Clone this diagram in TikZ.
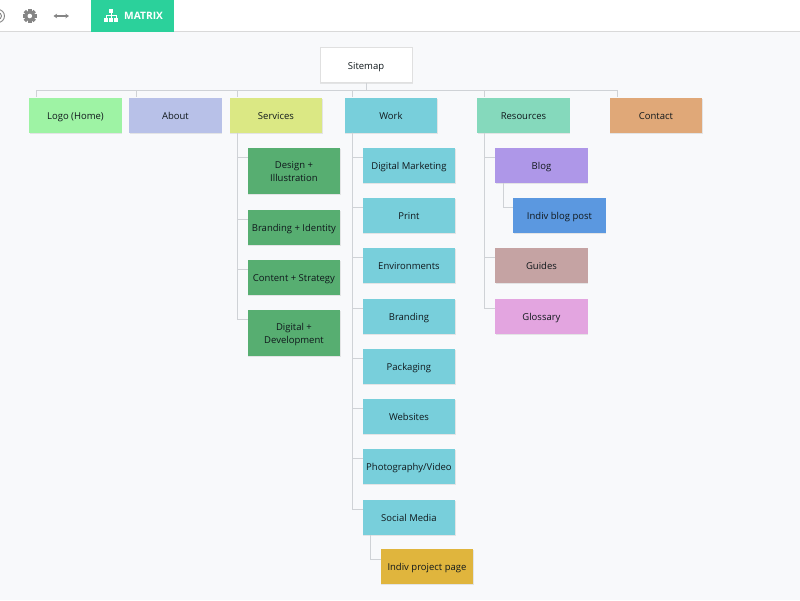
\documentclass[tikz,border=0pt]{standalone}
\usepackage{fontspec}
\setmainfont{Open Sans}
\usetikzlibrary{shadows,arrows.meta}
\definecolor{bgc}{HTML}{F8F9FB}
\definecolor{linec}{HTML}{CFD2D6}
\definecolor{txt}{HTML}{10181C}
\definecolor{matrixc}{HTML}{2BD19B}
\definecolor{iconc}{HTML}{858585}
\definecolor{cLogo}{HTML}{9EF3A4}
\definecolor{cAbout}{HTML}{B8C1E8}
\definecolor{cServ}{HTML}{DBE884}
\definecolor{cWork}{HTML}{78CFDB}
\definecolor{cGreen}{HTML}{57AE71}
\definecolor{cRes}{HTML}{85D9BC}
\definecolor{cCont}{HTML}{E0A878}
\definecolor{cBlog}{HTML}{AE97E8}
\definecolor{cPost}{HTML}{5B98E0}
\definecolor{cGuide}{HTML}{C5A3A3}
\definecolor{cGloss}{HTML}{E3A5E0}
\definecolor{cProj}{HTML}{E0B53D}
\tikzset{
  card/.style={anchor=north west,minimum width=92.5pt,minimum height=35pt,inner sep=0pt,
    xshift=-0.5pt,yshift=0.2pt,
    align=center,text=txt,font=\fontsize{9.5pt}{13pt}\selectfont,
    text height=8.4pt,text depth=0pt,
    drop shadow={shadow xshift=0.3pt,shadow yshift=-1.1pt,opacity=.14,fill=black!60}},
  tallcard/.style={card,minimum height=46pt,text height=21.2pt,text depth=0pt},
  conn/.style={draw=linec,line width=0.8pt},
}
\begin{document}
\begin{tikzpicture}[x=1pt,y=-1pt]
\useasboundingbox (0,0) rectangle (800,600);
\fill[bgc] (0,0) rectangle (800,600);
% header
\fill[white] (0,0) rectangle (800,31);
\draw[draw=black!15,line width=0.8pt] (0,31.6) -- (800,31.6);
\fill[matrixc] (91.2,0) rectangle (174.2,32);
% header icons
\draw[iconc,line width=0.9pt] (-2,16) circle (6.5pt);
\draw[iconc,line width=0.9pt] (-2,16) circle (3.5pt);
\fill[iconc] (29.8,16) circle (5.2pt);
\foreach \a in {0,45,...,315}
  \fill[iconc,rotate around={\a:(29.8,16)}] (28.1,9) rectangle (31.5,12);
\fill[white] (29.8,16) circle (2.3pt);
\draw[iconc,line width=1.3pt,{Stealth[length=3.5pt,width=4.5pt]}-{Stealth[length=3.5pt,width=4.5pt]}] (53.5,16) -- (69,16);
% matrix icon
\fill[white] (108.8,8.5) rectangle (113.3,13);
\draw[white,line width=0.9pt] (111,13) -- (111,15.5) (106,18) -- (106,15.5) -- (116.3,15.5) -- (116.3,18) (111,15.5) -- (111,18);
\fill[white] (104,18) rectangle (108.3,22);
\fill[white] (108.9,18) rectangle (113.2,22);
\fill[white] (114,18) rectangle (118.3,22);
\node[anchor=west,text=white,inner sep=0pt,font=\fontsize{10.2pt}{12pt}\selectfont\bfseries] (matrix) at (124,15.8) {MATRIX};
% nodes
\node[card,fill=white,draw=black!12,line width=0.5pt] (sitemap) at (320,47.5) {Sitemap};
\node[card,fill=cLogo] (logo) at (29.5,97.5) {Logo (Home)};
\node[card,fill=cAbout] (about) at (129.5,97.5) {About};
\node[card,fill=cServ] (services) at (230,97.5) {Services};
\node[card,fill=cWork] (work) at (345,97.5) {Work};
\node[card,fill=cRes] (resources) at (477.5,97.5) {Resources};
\node[card,fill=cCont] (contact) at (610,97.5) {Contact};
\node[tallcard,fill=cGreen] (design) at (248,148) {Design +\\Illustration};
\node[card,fill=cGreen] (branding) at (248,209.5) {Branding + Identity};
\node[card,fill=cGreen] (content) at (248,260) {Content + Strategy};
\node[tallcard,fill=cGreen] (digital) at (248,310) {Digital +\\Development};
\node[card,fill=cWork] (w1) at (363,148) {Digital Marketing};
\node[card,fill=cWork] (w2) at (363,198) {Print};
\node[card,fill=cWork] (w3) at (363,248) {Environments};
\node[card,fill=cWork] (w4) at (363,298.5) {Branding};
\node[card,fill=cWork] (w5) at (363,348.5) {Packaging};
\node[card,fill=cWork] (w6) at (363,399) {Websites};
\node[card,fill=cWork] (w7) at (363,449) {Photography/Video};
\node[card,fill=cWork] (w8) at (363,499.5) {Social Media};
\node[card,fill=cProj] (proj) at (381,549) {Indiv project page};
\node[card,fill=cBlog] (blog) at (495.5,148) {Blog};
\node[card,fill=cPost] (post) at (513.5,198) {Indiv blog post};
\node[card,fill=cGuide] (guides) at (495.5,248) {Guides};
\node[card,fill=cGloss] (gloss) at (495.5,298.5) {Glossary};
% connectors
\draw[conn] (sitemap.south) -- ++(0,8) coordinate (bus);
\foreach \n in {logo,about,services,work,resources,contact}
  \draw[conn] (bus) -| ([xshift=7.5pt]\n.north west);
\foreach \n in {design,branding,content,digital}
  \draw[conn] ([xshift=8pt]services.south west) |- ([yshift=-10pt]\n.north west);
\foreach \n in {w1,w2,w3,w4,w5,w6,w7,w8}
  \draw[conn] ([xshift=7.5pt]work.south west) |- ([yshift=-10pt]\n.north west);
\foreach \n in {blog,guides,gloss}
  \draw[conn] ([xshift=7.5pt]resources.south west) |- ([yshift=-10pt]\n.north west);
\draw[conn] ([xshift=8pt]blog.south west) |- ([yshift=-10pt]post.north west);
\draw[conn] ([xshift=7.5pt]w8.south west) |- ([yshift=-10.5pt]proj.north west);
\end{tikzpicture}
\end{document}
